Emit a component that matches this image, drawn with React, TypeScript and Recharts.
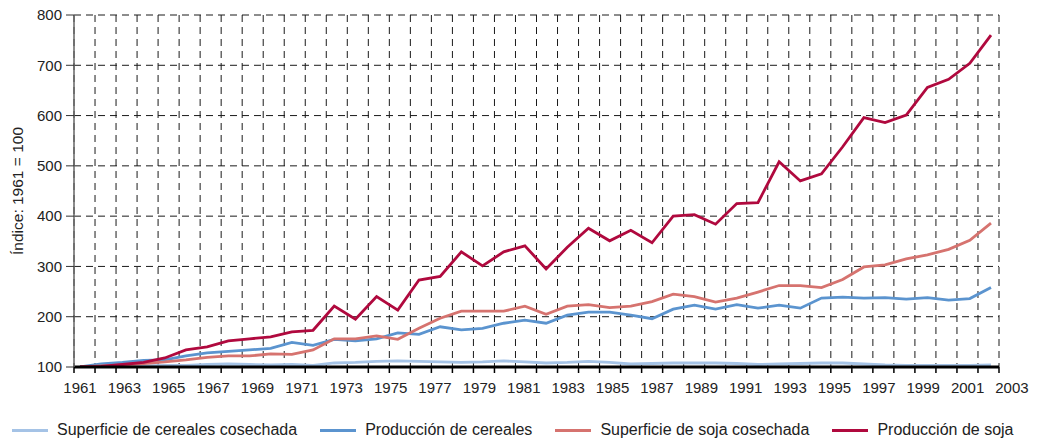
import { CartesianGrid, Legend, Line, LineChart, XAxis, YAxis } from 'recharts';

// years 1961-2004, index 1961 = 100
const years = [
    1961, 1962, 1963, 1964, 1965, 1966, 1967, 1968, 1969, 1970, 1971, 1972, 1973, 1974, 1975,
    1976, 1977, 1978, 1979, 1980, 1981, 1982, 1983, 1984, 1985, 1986, 1987, 1988, 1989, 1990,
    1991, 1992, 1993, 1994, 1995, 1996, 1997, 1998, 1999, 2000, 2001, 2002, 2003, 2004,
];

const cerealArea = [
    100, 101, 102, 102, 103, 103, 105, 106, 105, 104, 105, 103, 108, 109, 111,
    112, 111, 110, 109, 110, 112, 110, 108, 109, 111, 109, 106, 107, 108, 108,
    108, 107, 105, 106, 107, 108, 108, 106, 104, 103, 103, 103, 103, 104,
];

const cerealProduction = [
    100, 106, 109, 113, 114, 122, 128, 131, 134, 137, 149, 143, 155, 152, 156,
    168, 165, 180, 174, 177, 187, 193, 187, 203, 209, 209, 203, 196, 215, 223,
    215, 224, 217, 223, 217, 237, 239, 237, 238, 235, 238, 233, 236, 258,
];

const soyArea = [
    100, 102, 104, 107, 110, 114, 119, 122, 122, 126, 125, 134, 156, 156, 162,
    155, 177, 197, 211, 211, 211, 221, 205, 221, 224, 218, 221, 230, 245, 240,
    229, 237, 249, 262, 262, 258, 274, 299, 303, 315, 323, 334, 352, 386,
];

const soyProduction = [
    100, 101, 105, 109, 118, 134, 140, 152, 156, 160, 170, 173, 221, 195, 240,
    213, 273, 280, 329, 301, 329, 341, 295, 338, 376, 351, 372, 347, 400, 403,
    384, 425, 427, 508, 470, 484, 538, 596, 586, 601, 656, 672, 704, 760,
];

const xLabels = [
    1961, 1963, 1965, 1967, 1969, 1971, 1973, 1975, 1977, 1979, 1981,
    1983, 1985, 1987, 1989, 1991, 1993, 1995, 1997, 1999, 2001, 2003,
];

const yTicks = [100, 200, 300, 400, 500, 600, 700, 800];

const data = years.map((year, i) => ({
    year,
    cerealArea: cerealArea[i],
    cerealProduction: cerealProduction[i],
    soyArea: soyArea[i],
    soyProduction: soyProduction[i],
}));

// the original draws one grid column per step, but spaces its labels and points a bit differently
const gridTicks = Array.from({ length: 45 }, (_, i) => i);

const font = '"Liberation Sans", Arial, Helvetica, sans-serif';
const textColor = '#222';

const renderLegend = (props: any) => (
    <div
        style={{
            display: 'flex',
            alignItems: 'center',
            height: 18,
            paddingLeft: 4,
            fontFamily: font,
            fontSize: 16,
            color: textColor,
            whiteSpace: 'nowrap',
        }}
    >
        {(props.payload || []).map((entry: any) => (
            <div key={entry.value} style={{ display: 'flex', alignItems: 'center', marginRight: 23 }}>
                <span
                    style={{
                        display: 'inline-block',
                        width: 36,
                        height: 3,
                        background: entry.color,
                        marginRight: 9,
                    }}
                />
                {entry.value}
            </div>
        ))}
    </div>
);

export default function App() {
    return (
        <div style={{ fontFamily: font, marginTop: -4 }}>
            <LineChart
                width={1025}
                height={435}
                data={data}
                margin={{ top: 11, right: 34, bottom: 0, left: 0 }}
            >
                {/* visible year labels (default axis id, so it sits right under the plot) */}
                <XAxis
                    dataKey="year"
                    type="number"
                    domain={[1960.7296, 2002.415]}
                    ticks={xLabels}
                    interval={0}
                    allowDataOverflow
                    height={54}
                    axisLine={{ stroke: '#000', strokeWidth: 3 }}
                    tickLine={false}
                    tickSize={8}
                    tickMargin={7}
                    tick={{ fontSize: 15, fill: textColor }}
                />
                <XAxis
                    xAxisId="grid"
                    dataKey="year"
                    type="number"
                    domain={[0, 44]}
                    ticks={gridTicks}
                    interval={0}
                    allowDataOverflow
                    height={0}
                    hide
                />
                <XAxis
                    xAxisId="data"
                    dataKey="year"
                    type="number"
                    domain={[1960.7168, 2004.378]}
                    allowDataOverflow
                    height={0}
                    hide
                />
                <YAxis
                    width={66}
                    domain={[100, 800]}
                    ticks={yTicks}
                    interval={0}
                    allowDataOverflow
                    tickSize={8}
                    tickMargin={4}
                    tick={{ fontSize: 15, fill: textColor }}
                    tickLine={{ stroke: '#333' }}
                    axisLine={{ stroke: '#666', strokeWidth: 1.5 }}
                    label={{
                        value: 'Índice: 1961 = 100',
                        angle: -90,
                        position: 'insideLeft',
                        offset: 9.5,
                        fill: textColor,
                        fontSize: 15.5,
                        style: { textAnchor: 'middle' },
                    }}
                />
                <CartesianGrid xAxisId="grid" stroke="#1a1a1a" strokeDasharray="7 5" />
                {/* small tick marks under the axis line, one per grid column */}
                <CartesianGrid
                    xAxisId="grid"
                    horizontal={false}
                    y={363}
                    height={6}
                    stroke="#000"
                    strokeWidth={1.5}
                />
                <Legend verticalAlign="bottom" align="left" itemSorter="dataKey" content={renderLegend} />
                <Line
                    xAxisId="data"
                    type="linear"
                    dataKey="cerealArea"
                    name="Superficie de cereales cosechada"
                    stroke="#a5c3e6"
                    strokeWidth={2.8}
                    dot={false}
                    isAnimationActive={false}
                />
                <Line
                    xAxisId="data"
                    type="linear"
                    dataKey="cerealProduction"
                    name="Producción de cereales"
                    stroke="#5b94cf"
                    strokeWidth={2.8}
                    dot={false}
                    isAnimationActive={false}
                />
                <Line
                    xAxisId="data"
                    type="linear"
                    dataKey="soyArea"
                    name="Superficie de soja cosechada"
                    stroke="#d6736f"
                    strokeWidth={2.8}
                    dot={false}
                    isAnimationActive={false}
                />
                <Line
                    xAxisId="data"
                    type="linear"
                    dataKey="soyProduction"
                    name="Producción de soja"
                    stroke="#b0093e"
                    strokeWidth={2.8}
                    dot={false}
                    isAnimationActive={false}
                />
            </LineChart>
        </div>
    );
}
